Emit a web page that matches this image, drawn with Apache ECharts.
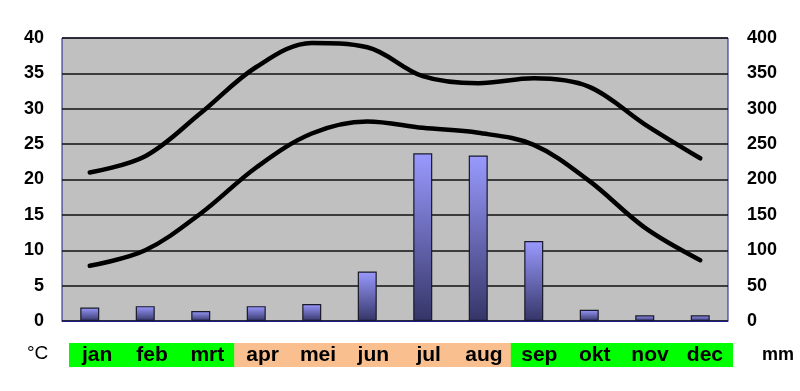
<!DOCTYPE html>
<html>
<head>
<meta charset="utf-8">
<script src="https://cdn.jsdelivr.net/npm/echarts@6/dist/echarts.min.js"></script>
<style>html,body{margin:0;padding:0;background:#fff}#c{width:800px;height:391px}</style>
</head>
<body>
<div id="c"></div>
<script>
var months = ['jan','feb','mrt','apr','mei','jun','jul','aug','sep','okt','nov','dec'];
var tempMax = [21, 23.3, 29.4, 35.9, 39.3, 38.7, 34.6, 33.6, 34.3, 33.1, 27.8, 23];
var tempMin = [7.8, 10, 15.2, 21.7, 26.5, 28.2, 27.3, 26.6, 24.9, 19.8, 13.2, 8.6];
var rain = [19, 21, 14, 21, 24, 70, 237, 234, 113, 16, 8, 8];
var seasonBand = [1,1,1,1,1,1,1,1,1,1,1,1];
var seasonColors = ['#00ff00','#00ff00','#00ff00','#f9bf8f','#f9bf8f','#f9bf8f','#f9bf8f','#f9bf8f','#00ff00','#00ff00','#00ff00','#00ff00'];

var chart = echarts.init(document.getElementById('c'), null, {renderer:'canvas'});
var font = 'Liberation Sans, Arial, sans-serif';
chart.setOption({
  animation: false,
  backgroundColor: '#ffffff',
  grid: [
    {left: 62, right: 72, top: 38, bottom: 70, show: true, backgroundColor: '#c0c0c0', borderColor: '#1c1c8c', borderWidth: 1},
    {left: 69, width: 664, top: 343, height: 24, show: false}
  ],
  xAxis: [
    {type: 'category', gridIndex: 0, data: months, boundaryGap: true,
     axisLine: {show: true, lineStyle: {color: '#1c1c8c', width: 1}}, axisTick: {show: false}, axisLabel: {show: false}},
    {type: 'category', gridIndex: 1, data: months, axisLine: {show: false}, axisTick: {show: false}, axisLabel: {show: false}}
  ],
  yAxis: [
    {type: 'value', gridIndex: 0, min: 0, max: 40, interval: 5, position: 'left',
     axisLine: {show: false}, axisTick: {show: false},
     splitLine: {show: true, lineStyle: {color: '#111', width: 1.5}},
     axisLabel: {margin: 18, color: '#000', fontFamily: font, fontWeight: 'bold', fontSize: 18}},
    {type: 'value', gridIndex: 0, min: 0, max: 400, interval: 50, position: 'right',
     axisLine: {show: false}, axisTick: {show: false}, splitLine: {show: false},
     axisLabel: {margin: 19, color: '#000', fontFamily: font, fontWeight: 'bold', fontSize: 18}},
    {type: 'value', gridIndex: 1, min: 0, max: 1, show: false}
  ],
  series: [
    {type: 'bar', xAxisIndex: 0, yAxisIndex: 1, data: rain, barWidth: 19, z: 2,
     itemStyle: {
       color: new echarts.graphic.LinearGradient(0, 0, 0, 1, [{offset: 0, color: '#9a9aff'}, {offset: 1, color: '#353568'}]),
       borderColor: '#1a1a2a', borderWidth: 1.2}},
    {type: 'line', xAxisIndex: 0, yAxisIndex: 0, data: tempMax, smooth: 0.35, symbol: 'none', z: 3,
     lineStyle: {color: '#000', width: 4.5, cap: 'round'}},
    {type: 'line', xAxisIndex: 0, yAxisIndex: 0, data: tempMin, smooth: 0.35, symbol: 'none', z: 3,
     lineStyle: {color: '#000', width: 4.5, cap: 'round'}},
    {type: 'bar', xAxisIndex: 1, yAxisIndex: 2, barWidth: 57, silent: true,
     data: seasonBand.map(function(v, i){ return {value: v, itemStyle: {color: seasonColors[i]}}; }),
     label: {show: true, position: 'inside', formatter: '{b}', color: '#000', fontFamily: font, fontWeight: 'bold', fontSize: 21}}
  ],
  graphic: [
    {type: 'text', left: 27, top: 344, style: {text: '°C', fill: '#000', font: '19px Liberation Sans, Arial, sans-serif'}},
    {type: 'text', left: 762, top: 346, style: {text: 'mm', fill: '#000', font: 'bold 18px Liberation Sans, Arial, sans-serif'}}
  ]
});
</script>
</body>
</html>
